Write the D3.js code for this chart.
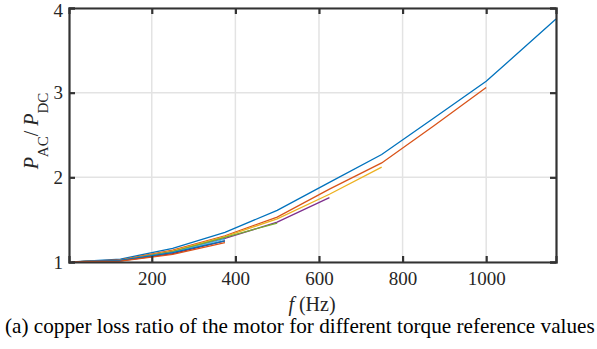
<!DOCTYPE html>
<html>
<head>
<meta charset="utf-8">
<script src="https://cdn.jsdelivr.net/npm/d3@7"></script>
<style>
  body { margin: 0; background: #fff; }
  text { font-family: "Liberation Serif", "Times New Roman", serif; fill: #262626; }
</style>
</head>
<body>
<div id="chart"></div>
<script>
// frequency points (Hz) and ratio P_AC/P_DC per torque reference
const freqs = [10, 125, 250, 375, 500, 625, 750, 875, 1000, 1167];
const series1 = [1.0, 1.035, 1.16, 1.35, 1.61, 1.94, 2.27, 2.70, 3.135, 3.87];
const series2 = [1.0, 1.025, 1.14, 1.31, 1.53, 1.86, 2.17, 2.61, 3.06];
const series3 = [1.0, 1.02, 1.13, 1.30, 1.51, 1.80, 2.12];
const series4 = [1.0, 1.02, 1.12, 1.28, 1.47, 1.76];
const series5 = [1.0, 1.02, 1.12, 1.29, 1.46];
const series6 = [1.0, 1.02, 1.11, 1.27];
const series7 = [1.0, 1.015, 1.10, 1.25];
const series8 = [1.0, 1.02, 1.11, 1.25];
const series9 = [1.0, 1.01, 1.09, 1.23];
const xTicks = [200, 400, 600, 800, 1000];
const yTicks = [1, 2, 3, 4];
const colors = ['#0072BD', '#D95319', '#EDB120', '#7E2F8E', '#77AC30', '#4DBEEE', '#A2142F', '#0072BD', '#D95319'];

const allSeries = [series1, series2, series3, series4, series5, series6, series7, series8, series9];

const width = 597, height = 349;
const margin = { left: 69, right: 41, top: 8, bottom: 87 };

const svg = d3.select('#chart').append('svg')
    .attr('width', width)
    .attr('height', height);

const x = d3.scaleLinear().domain([2, 1167]).range([margin.left, width - margin.right]);
const y = d3.scaleLinear().domain([1, 4]).range([height - margin.bottom, margin.top]);

// grid
svg.append('g').selectAll('line.gx')
    .data(xTicks).enter().append('line')
    .attr('x1', d => x(d)).attr('x2', d => x(d))
    .attr('y1', y(1)).attr('y2', y(4))
    .style('stroke', '#e3e3e3').style('stroke-width', 1.5);
svg.append('g').selectAll('line.gy')
    .data(yTicks).enter().append('line')
    .attr('x1', x.range()[0]).attr('x2', x.range()[1])
    .attr('y1', d => y(d)).attr('y2', d => y(d))
    .style('stroke', '#e3e3e3').style('stroke-width', 1.5);

// lines
const line = d3.line()
    .x((d, i) => x(freqs[i]))
    .y(d => y(d));

svg.append('g').selectAll('path')
    .data(allSeries).enter().append('path')
    .attr('d', d => line(d))
    .style('fill', 'none')
    .style('stroke', (d, i) => colors[i])
    .style('stroke-width', 1.3);

// axes (ticks inward, box)
const axisColor = '#333';
const xAxisB = svg.append('g').attr('transform', `translate(0,${y(1)})`)
    .call(d3.axisBottom(x).tickValues(xTicks).tickFormat(d3.format('d')).tickSize(-6).tickPadding(10));
const xAxisT = svg.append('g').attr('transform', `translate(0,${y(4)})`)
    .call(d3.axisTop(x).tickValues(xTicks).tickSize(-6).tickFormat(''));
const yAxisL = svg.append('g').attr('transform', `translate(${x.range()[0]},0)`)
    .call(d3.axisLeft(y).tickValues(yTicks).tickFormat(d3.format('d')).tickSize(-6).tickPadding(6));
const yAxisR = svg.append('g').attr('transform', `translate(${x.range()[1]},0)`)
    .call(d3.axisRight(y).tickValues(yTicks).tickSize(-6).tickFormat(''));

[xAxisB, xAxisT, yAxisL, yAxisR].forEach(g => {
    g.attr('font-family', null);
    g.select('.domain').style('stroke', axisColor).style('stroke-width', 2.2);
    g.selectAll('.tick line').style('stroke', axisColor).style('stroke-width', 2.2);
    g.selectAll('.tick text')
        .style('font-family', '"Liberation Serif", serif')
        .style('font-size', '19px')
        .style('fill', '#262626');
});
yAxisL.selectAll('.tick text').filter(d => d === 4).attr('dy', '0.38em').attr('y', 0).attr('transform', 'translate(0,1)');

// x label
svg.append('text')
    .attr('x', 312).attr('y', 311)
    .attr('text-anchor', 'middle')
    .style('font-size', '20px')
    .html('<tspan font-style="italic">f</tspan> (Hz)');

// y label
const yl = svg.append('text')
    .attr('transform', 'translate(38,131) rotate(-90)')
    .attr('text-anchor', 'middle')
    .style('font-size', '20px');
yl.append('tspan').attr('font-style', 'italic').text('P');
yl.append('tspan').attr('dy', 10).style('font-size', '15px').text('AC');
yl.append('tspan').attr('dy', -10).text('/ ');
yl.append('tspan').attr('font-style', 'italic').text('P');
yl.append('tspan').attr('dy', 10).style('font-size', '15px').text('DC');

// caption
svg.append('text')
    .attr('x', 5).attr('y', 333)
    .style('font-size', '21.2px')
    .style('fill', '#000')
    .text('(a) copper loss ratio of the motor for different torque reference values');
</script>
</body>
</html>
